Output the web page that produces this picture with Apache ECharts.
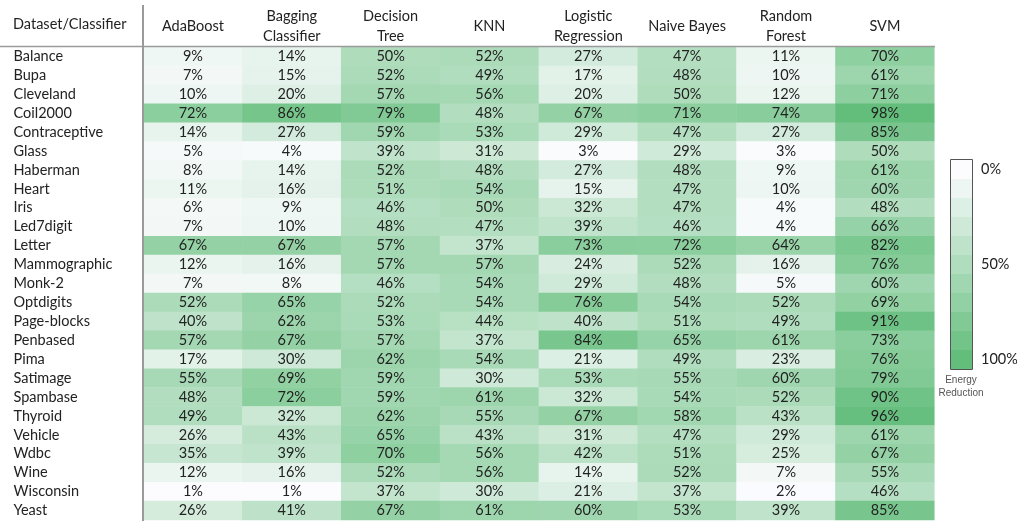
<!DOCTYPE html>
<html>
<head>
<meta charset="utf-8">
<script src="https://cdn.jsdelivr.net/npm/echarts@6/dist/echarts.min.js"></script>
<style>
  html, body { margin: 0; padding: 0; background: #fff; }
  #main { width: 1017px; height: 521px; }
</style>
</head>
<body>
<div id="main"></div>
<script>
let classifiers = ['AdaBoost', 'Bagging\nClassifier', 'Decision\nTree', 'KNN', 'Logistic\nRegression', 'Naive Bayes', 'Random\nForest', 'SVM'];
let datasets = ['Balance', 'Bupa', 'Cleveland', 'Coil2000', 'Contraceptive', 'Glass', 'Haberman', 'Heart', 'Iris', 'Led7digit',
  'Letter', 'Mammographic', 'Monk-2', 'Optdigits', 'Page-blocks', 'Penbased', 'Pima', 'Satimage', 'Spambase', 'Thyroid',
  'Vehicle', 'Wdbc', 'Wine', 'Wisconsin', 'Yeast'];

// energy reduction (%) per classifier, one value per dataset in the order above
let adaBoost = [9, 7, 10, 72, 14, 5, 8, 11, 6, 7, 67, 12, 7, 52, 40, 57, 17, 55, 48, 49, 26, 35, 12, 1, 26];
let bagging = [14, 15, 20, 86, 27, 4, 14, 16, 9, 10, 67, 16, 8, 65, 62, 67, 30, 69, 72, 32, 43, 39, 16, 1, 41];
let decisionTree = [50, 52, 57, 79, 59, 39, 52, 51, 46, 48, 57, 57, 46, 52, 53, 57, 62, 59, 59, 62, 65, 70, 52, 37, 67];
let knn = [52, 49, 56, 48, 53, 31, 48, 54, 50, 47, 37, 57, 54, 54, 44, 37, 54, 30, 61, 55, 43, 56, 56, 30, 61];
let logistic = [27, 17, 20, 67, 29, 3, 27, 15, 32, 39, 73, 24, 29, 76, 40, 84, 21, 53, 32, 67, 31, 42, 14, 21, 60];
let naiveBayes = [47, 48, 50, 71, 47, 29, 48, 47, 47, 46, 72, 52, 48, 54, 51, 65, 49, 55, 54, 58, 47, 51, 52, 37, 53];
let randomForest = [11, 10, 12, 74, 27, 3, 9, 10, 4, 4, 64, 16, 5, 52, 49, 61, 23, 60, 52, 43, 29, 25, 7, 2, 39];
let svm = [70, 61, 71, 98, 85, 50, 61, 60, 48, 66, 82, 76, 60, 69, 91, 73, 76, 79, 90, 96, 61, 67, 55, 46, 85];

let legendSteps = [0, 10, 20, 30, 40, 50, 60, 70, 80, 90, 100];
let legendLabels = {0: '0%', 50: '50%', 100: '100%'};

let columns = [adaBoost, bagging, decisionTree, knn, logistic, naiveBayes, randomForest, svm];
let cells = [];
let allValues = [];

columns.forEach(function (col, x) {
  col.forEach(function (v, y) {
    cells.push([x, y, v]);
    allValues.push(v);
  });
});

let lowColor = '#fcfcff';
let highColor = '#63be7b';
let font = 'Lato';

let myChart = echarts.init(document.getElementById('main'));

myChart.setOption({
  animation: false,
  title: {
    text: 'Dataset/Classifier',
    left: 13,
    top: 17,
    padding: 0,
    textStyle: {
      fontFamily: font,
      fontSize: 14.5,
      fontWeight: 'normal',
      color: '#222'
    }
  },
  grid: {
    left: 143.5,
    right: 82.7,
    top: 47,
    bottom: 1
  },
  xAxis: {
    type: 'category',
    position: 'top',
    data: classifiers,
    axisLine: { show: false },
    axisTick: { show: false },
    splitLine: { show: false },
    axisLabel: {
      interval: 0,
      margin: 21,
      verticalAlign: 'middle',
      lineHeight: 20,
      fontFamily: font,
      fontSize: 14.5,
      color: '#222'
    }
  },
  yAxis: {
    type: 'category',
    inverse: true,
    data: datasets,
    axisLine: { show: false },
    axisTick: { show: false },
    splitLine: { show: false },
    axisLabel: {
      interval: 0,
      align: 'left',
      margin: 130,
      fontFamily: font,
      fontSize: 14.5,
      color: '#222'
    }
  },
  visualMap: [{
    type: 'continuous',
    show: false,
    seriesIndex: 0,
    dimension: 2,
    min: Math.min.apply(null, allValues),
    max: Math.max.apply(null, allValues),
    inRange: { color: [lowColor, highColor] }
  }, {
    type: 'piecewise',
    seriesIndex: [],
    orient: 'vertical',
    inverse: true,
    align: 'left',
    left: 951,
    top: 160,
    padding: 0,
    itemWidth: 21,
    itemHeight: 19,
    itemGap: 0,
    itemSymbol: 'rect',
    textGap: 9,
    selectedMode: false,
    min: 0,
    max: 100,
    pieces: legendSteps.map(function (v) { return { value: v }; }),
    inRange: { color: [lowColor, highColor] },
    formatter: function (v) {
      return legendLabels[v] || '';
    },
    textStyle: {
      fontFamily: font,
      fontSize: 14.5,
      color: '#222'
    }
  }],
  graphic: [{
    type: 'line',
    shape: { x1: 0, y1: 46.5, x2: 935, y2: 46.5 },
    style: { stroke: '#9a9a9a', lineWidth: 1.5 },
    z: 100
  }, {
    type: 'line',
    shape: { x1: 143, y1: 5, x2: 143, y2: 521 },
    style: { stroke: '#9a9a9a', lineWidth: 2 },
    z: 100
  }, {
    type: 'rect',
    shape: { x: 950.5, y: 159.5, width: 22, height: 210 },
    style: { fill: 'none', stroke: '#555', lineWidth: 1 },
    z: 100
  }, {
    type: 'text',
    x: 961,
    y: 387,
    style: {
      text: 'Energy\nReduction',
      align: 'center',
      verticalAlign: 'middle',
      lineHeight: 13,
      fontFamily: 'Liberation Sans',
      fontSize: 10,
      fill: '#555'
    }
  }],
  series: [{
    type: 'heatmap',
    data: cells,
    label: {
      show: true,
      fontFamily: font,
      fontSize: 14.5,
      color: '#222',
      formatter: function (p) {
        return p.value[2] + '%';
      }
    },
    emphasis: { disabled: true }
  }]
});
</script>
</body>
</html>
